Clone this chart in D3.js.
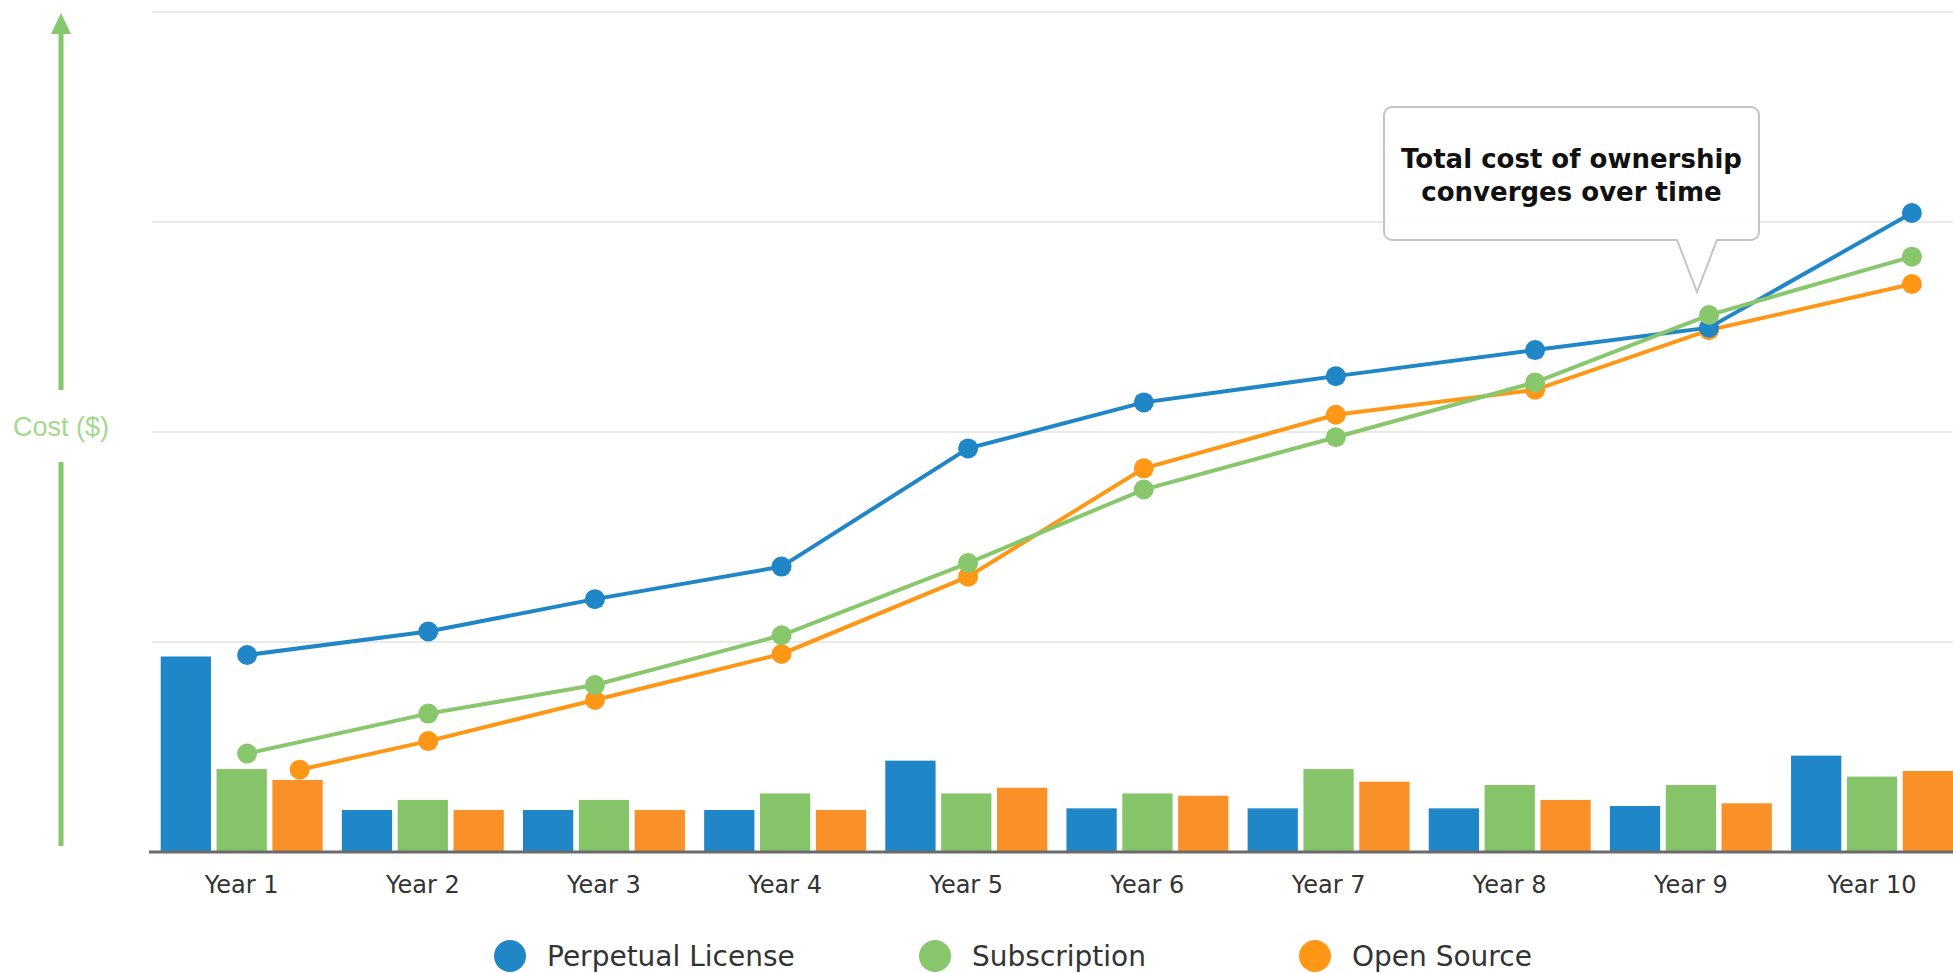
<!DOCTYPE html>
<html>
<head>
<meta charset="utf-8">
<script src="https://d3js.org/d3.v7.min.js"></script>
<style>
  body { margin: 0; background: #fff; }
  svg { display: block; }
</style>
</head>
<body>
<svg id="chart" width="1953" height="973"></svg>
<script>
// categories and series
var years = ["Year 1", "Year 2", "Year 3", "Year 4", "Year 5", "Year 6", "Year 7", "Year 8", "Year 9", "Year 10"];
var seriesNames = ["Perpetual License", "Subscription", "Open Source"];

// yearly cost (bars)
var perpetualYearly    = [9.31, 2.0, 2.0, 2.0, 4.35, 2.08, 2.08, 2.08, 2.19, 4.59];
var subscriptionYearly = [3.95, 2.48, 2.48, 2.79, 2.79, 2.79, 3.95, 3.19, 3.19, 3.59];
var openSourceYearly   = [3.43, 2.0, 2.0, 2.0, 3.06, 2.68, 3.35, 2.48, 2.32, 3.86];

// total cost (lines), with the point in time each was taken (years)
var perpetualTotal    = [9.38, 10.5, 12.04, 13.59, 19.22, 21.41, 22.66, 23.9, 24.97, 30.43];
var subscriptionTotal = [4.69, 6.59, 7.95, 10.32, 13.76, 17.26, 19.75, 22.36, 25.57, 28.35];
var openSourceTotal   = [3.92, 5.28, 7.24, 9.43, 13.11, 18.27, 20.82, 22.01, 24.85, 27.05];
var pointTimes     = [1.03, 2.03, 2.95, 3.98, 5.01, 5.98, 7.04, 8.14, 9.1, 10.22];
var openSourceTimes = [1.32, 2.03, 2.95, 3.98, 5.01, 5.98, 7.04, 8.14, 9.1, 10.22];

var gridValues = [10, 20, 30, 40];
var annotationLines = ["Total cost of ownership", "converges over time"];

var barColors  = ["#1f87c7", "#86c46a", "#f99028"];
var lineColors = ["#2086c6", "#88c76c", "#ff9716"];

var svg = d3.select("#chart");

var x = d3.scaleBand()
  .domain(years)
  .range([160.7, 1953])
  .paddingInner(0.106)
  .paddingOuter(0);

var xSub = d3.scaleBand()
  .domain(seriesNames)
  .range([0, x.bandwidth()])
  .paddingInner(0.1);

var xTime = d3.scaleLinear()
  .domain([1, 10])
  .range([x(years[0]) + x.bandwidth() / 2, x(years[9]) + x.bandwidth() / 2]);

var y = d3.scaleLinear()
  .domain([0, 40])
  .range([852, 12]);

// grid lines
svg.append("g")
  .selectAll("line")
  .data(gridValues)
  .enter()
  .append("line")
    .attr("x1", 152)
    .attr("x2", 1953)
    .attr("y1", function (d) { return y(d); })
    .attr("y2", function (d) { return y(d); })
    .attr("stroke", "#e9e9e9")
    .attr("stroke-width", 2);

// bars
var yearly = [perpetualYearly, subscriptionYearly, openSourceYearly];
var barData = [];
years.forEach(function (yr, i) {
  seriesNames.forEach(function (s, j) {
    barData.push({ year: yr, series: s, idx: j, value: yearly[j][i] });
  });
});

svg.append("g")
  .selectAll("rect")
  .data(barData)
  .enter()
  .append("rect")
    .attr("x", function (d) { return x(d.year) + xSub(d.series); })
    .attr("y", function (d) { return y(d.value); })
    .attr("width", xSub.bandwidth())
    .attr("height", function (d) { return y(0) - y(d.value); })
    .attr("fill", function (d) { return barColors[d.idx]; });

// baseline + year labels
var xAxis = svg.append("g")
  .attr("transform", "translate(0," + y(0) + ")")
  .call(d3.axisBottom(x).tickSize(0).tickPadding(24));
xAxis.select(".domain")
  .attr("d", "M149,0H1953")
  .attr("stroke", "#6b6b6b")
  .attr("stroke-width", 3);
xAxis.selectAll("text")
  .attr("font-family", "Verdana, 'DejaVu Sans', sans-serif")
  .attr("font-size", 24)
  .attr("fill", "#333");

// cost lines, drawn orange, blue, green
var lineSeries = [
  { idx: 2, totals: openSourceTotal, times: openSourceTimes },
  { idx: 0, totals: perpetualTotal, times: pointTimes },
  { idx: 1, totals: subscriptionTotal, times: pointTimes }
];

var line = d3.line()
  .x(function (d) { return xTime(d[0]); })
  .y(function (d) { return y(d[1]); });

lineSeries.forEach(function (s) {
  var pts = s.totals.map(function (v, i) { return [s.times[i], v]; });
  var g = svg.append("g");
  g.append("path")
    .datum(pts)
    .attr("d", line)
    .attr("fill", "none")
    .attr("stroke", lineColors[s.idx])
    .attr("stroke-width", 4);
  g.selectAll("circle")
    .data(pts)
    .enter()
    .append("circle")
      .attr("cx", function (d) { return xTime(d[0]); })
      .attr("cy", function (d) { return y(d[1]); })
      .attr("r", 10)
      .attr("fill", lineColors[s.idx]);
});

// y axis arrow with label
var arrowX = 61;
var axisG = svg.append("g");
axisG.append("line")
  .attr("x1", arrowX).attr("x2", arrowX)
  .attr("y1", 846).attr("y2", 462)
  .attr("stroke", "#86c96c").attr("stroke-width", 5);
axisG.append("line")
  .attr("x1", arrowX).attr("x2", arrowX)
  .attr("y1", 390).attr("y2", 30)
  .attr("stroke", "#86c96c").attr("stroke-width", 5);
axisG.append("path")
  .attr("d", "M" + arrowX + ",13L" + (arrowX + 10) + ",34L" + (arrowX - 10) + ",34Z")
  .attr("fill", "#86c96c");
axisG.append("text")
  .attr("x", arrowX)
  .attr("y", 427)
  .attr("dy", "0.35em")
  .attr("text-anchor", "middle")
  .attr("font-family", "'Liberation Sans', Arial, sans-serif")
  .attr("font-size", 27)
  .attr("fill", "#a3d88f")
  .text("Cost ($)");

// callout
var bx0 = 1384, bx1 = 1759, by0 = 107, by1 = 240, r = 8;
var tipX = 1697, tipY = 292, notchL = 1677, notchR = 1717;
var p = d3.path();
p.moveTo(bx0 + r, by0);
p.lineTo(bx1 - r, by0);
p.arcTo(bx1, by0, bx1, by0 + r, r);
p.lineTo(bx1, by1 - r);
p.arcTo(bx1, by1, bx1 - r, by1, r);
p.lineTo(notchR, by1);
p.lineTo(tipX, tipY);
p.lineTo(notchL, by1);
p.lineTo(bx0 + r, by1);
p.arcTo(bx0, by1, bx0, by1 - r, r);
p.lineTo(bx0, by0 + r);
p.arcTo(bx0, by0, bx0 + r, by0, r);
p.closePath();

svg.append("path")
  .attr("d", p.toString())
  .attr("fill", "#fff")
  .attr("fill-opacity", 0.85)
  .attr("stroke", "#c4c4c4")
  .attr("stroke-width", 2);

svg.append("g")
  .selectAll("text")
  .data(annotationLines)
  .enter()
  .append("text")
    .attr("x", (bx0 + bx1) / 2)
    .attr("y", function (d, i) { return 168 + i * 33; })
    .attr("text-anchor", "middle")
    .attr("font-family", "Verdana, 'DejaVu Sans', sans-serif")
    .attr("font-weight", "bold")
    .attr("font-size", 26)
    .attr("fill", "#111")
    .text(function (d) { return d; });

// legend
var legendX = [510, 935, 1315];
var legend = svg.append("g")
  .selectAll("g")
  .data(seriesNames)
  .enter()
  .append("g")
    .attr("transform", function (d, i) { return "translate(" + legendX[i] + ",956)"; });
legend.append("circle")
  .attr("r", 16)
  .attr("fill", function (d, i) { return lineColors[i]; });
legend.append("text")
  .attr("x", 37)
  .attr("dy", "0.35em")
  .attr("font-family", "Verdana, 'DejaVu Sans', sans-serif")
  .attr("font-size", 28)
  .attr("fill", "#333")
  .text(function (d) { return d; });
</script>
</body>
</html>
